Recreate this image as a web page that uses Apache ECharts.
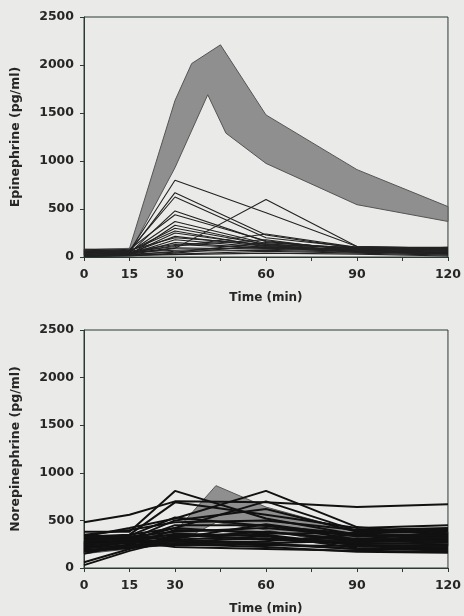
<!DOCTYPE html>
<html>
<head>
<meta charset="utf-8">
<script src="https://cdn.jsdelivr.net/npm/echarts@6/dist/echarts.min.js"></script>
<style>
html,body{margin:0;padding:0;background:#eaebe8;}
#c{width:464px;height:616px;}
</style>
</head>
<body>
<div id="c"></div>
<script>
// ---- data ----
var times = [0, 15, 30, 60, 90, 120];
var xTickLabels = [0, 15, 30, 60, 90, 120];

// Epinephrine reference band (upper and lower edges, [time, value])
var epiBandUpper = [[0, 80], [15, 90], [30, 1630], [35.5, 2015], [45, 2210], [60, 1480], [90, 910], [120, 525]];
var epiBandLower = [[0, 20], [15, 40], [30, 930], [40.8, 1690], [46.8, 1290], [60, 975], [90, 545], [120, 370]];

// Norepinephrine reference band
var norBandUpper = [[0, 280], [15, 300], [30, 380], [43.5, 865], [60, 640], [90, 380], [120, 380]];
var norBandLower = [[0, 150], [15, 200], [30, 250], [43.5, 480], [60, 400], [90, 220], [120, 230]];

// Individual epinephrine curves (values at times 0,15,30,60,90,120)
var epiS1 = [40, 60, 800, 460, 110, 90];
var epiS2 = [30, 50, 670, 230, 90, 80];
var epiS3 = [50, 70, 625, 200, 100, 70];
var epiS4 = [20, 40, 480, 160, 80, 60];
var epiS5 = [60, 80, 440, 170, 70, 50];
var epiS6 = [30, 50, 370, 140, 60, 40];
var epiS7 = [40, 60, 300, 130, 90, 80];
var epiS8 = [10, 30, 250, 120, 70, 60];
var epiS9 = [50, 40, 215, 110, 60, 50];
var epiS10 = [20, 30, 180, 100, 50, 40];
var epiS11 = [70, 60, 130, 90, 80, 70];
var epiS12 = [30, 40, 95, 80, 60, 50];
var epiS13 = [10, 20, 60, 70, 50, 40];
var epiS14 = [40, 30, 90, 600, 110, 90];
var epiS15 = [60, 50, 110, 240, 100, 80];
var epiS16 = [20, 30, 50, 150, 90, 70];
var epiS17 = [5, 10, 40, 120, 60, 30];
var epiS18 = [80, 70, 200, 130, 100, 100];
var epiS19 = [15, 20, 30, 60, 40, 20];
var epiS20 = [40, 50, 70, 100, 80, 60];
var epiS21 = [25, 30, 150, 90, 70, 90];
var epiS22 = [10, 20, 330, 130, 50, 30];
var epiS23 = [60, 60, 270, 110, 70, 100];
var epiS24 = [5, 15, 25, 40, 30, 10];
var epiS25 = [35, 45, 120, 180, 60, 40];

// Individual norepinephrine curves
var norS1 = [480, 560, 700, 690, 640, 670];
var norS2 = [380, 380, 810, 520, 350, 300];
var norS3 = [330, 420, 520, 810, 430, 350];
var norS4 = [300, 350, 690, 560, 420, 450];
var norS5 = [250, 300, 500, 620, 380, 400];
var norS6 = [200, 280, 450, 450, 300, 380];
var norS7 = [150, 250, 400, 380, 280, 300];
var norS8 = [60, 200, 350, 300, 250, 270];
var norS9 = [30, 180, 300, 250, 200, 200];
var norS10 = [340, 320, 250, 220, 170, 160];
var norS11 = [280, 260, 300, 330, 260, 250];
var norS12 = [220, 230, 260, 280, 350, 330];
var norS13 = [310, 330, 380, 420, 340, 360];
var norS14 = [260, 280, 220, 200, 180, 170];
var norS15 = [190, 220, 330, 350, 240, 230];
var norS16 = [350, 400, 480, 500, 400, 420];
var norS17 = [240, 300, 420, 700, 390, 410];
var norS18 = [170, 210, 260, 240, 230, 210];
var norS19 = [300, 310, 350, 300, 310, 280];
var norS20 = [230, 260, 310, 460, 330, 340];
var norS21 = [270, 340, 530, 440, 360, 390];
var norS22 = [320, 290, 280, 260, 290, 310];
var norS23 = [290, 300, 320, 380, 300, 320];
var norS24 = [210, 240, 280, 310, 270, 290];
var norS25 = [330, 350, 420, 360, 370, 400];
var norS26 = [250, 270, 360, 340, 210, 180];
var norS27 = [180, 230, 240, 260, 200, 240];

var epiSubjects = [epiS1, epiS2, epiS3, epiS4, epiS5, epiS6, epiS7, epiS8, epiS9, epiS10, epiS11, epiS12, epiS13,
  epiS14, epiS15, epiS16, epiS17, epiS18, epiS19, epiS20, epiS21, epiS22, epiS23, epiS24, epiS25];
var norSubjects = [norS1, norS2, norS3, norS4, norS5, norS6, norS7, norS8, norS9, norS10, norS11,
  norS12, norS13, norS14, norS15, norS16, norS17, norS18, norS19, norS20, norS21, norS22,
  norS23, norS24, norS25, norS26, norS27];

// ---- chart ----
var font = 'DejaVu Sans, sans-serif';
var textColor = '#262626';
var frameColor = '#2b3a35';

function xAxisDef(gi) {
  return {
    type: 'value', gridIndex: gi, min: 0, max: 120, interval: 15,
    name: 'Time (min)', nameLocation: 'middle', nameGap: 35,
    nameTextStyle: { fontFamily: font, fontSize: 12, fontWeight: 'bold', color: textColor },
    axisLine: { show: true, onZero: false, lineStyle: { color: frameColor, width: 1 } },
    axisTick: { show: true, length: 4, lineStyle: { color: frameColor } },
    axisLabel: {
      margin: 11, fontFamily: font, fontSize: 12.5, fontWeight: 'bold', color: textColor,
      formatter: function (v) { return xTickLabels.indexOf(v) >= 0 ? String(v) : ''; }
    },
    splitLine: { show: false }
  };
}
function yAxisDef(gi, name) {
  return {
    type: 'value', gridIndex: gi, min: 0, max: 2500, interval: 500,
    name: name, nameLocation: 'middle', nameGap: 62, nameRotate: 90,
    nameTextStyle: { fontFamily: font, fontSize: 12.5, fontWeight: 'bold', color: textColor },
    axisLine: { show: true, lineStyle: { color: frameColor, width: 1 } },
    axisTick: { show: true, length: 4, lineStyle: { color: frameColor } },
    axisLabel: {
      margin: 10, fontFamily: font, fontSize: 12.5, fontWeight: 'bold', color: textColor,
      formatter: function (v) { return String(v); }
    },
    splitLine: { show: false }
  };
}

function bandSeries(gi, upper, lower) {
  return {
    type: 'custom', xAxisIndex: gi, yAxisIndex: gi, silent: true, z: 1,
    data: [0],
    renderItem: function (params, api) {
      var pts = [];
      for (var i = 0; i < upper.length; i++) pts.push(api.coord(upper[i]));
      for (var j = lower.length - 1; j >= 0; j--) pts.push(api.coord(lower[j]));
      return {
        type: 'polygon',
        shape: { points: pts },
        style: { fill: '#8f8f8f', stroke: '#555', lineWidth: 1 }
      };
    }
  };
}

function subjectSeries(gi, vals, width, color) {
  var d = [];
  for (var i = 0; i < times.length; i++) d.push([times[i], vals[i]]);
  return {
    type: 'line', xAxisIndex: gi, yAxisIndex: gi, data: d,
    symbol: 'none', silent: true, z: 3,
    lineStyle: { color: color, width: width }
  };
}

var series = [bandSeries(0, epiBandUpper, epiBandLower), bandSeries(1, norBandUpper, norBandLower)];
epiSubjects.forEach(function (s) { series.push(subjectSeries(0, s, 1.1, '#222')); });
norSubjects.forEach(function (s) { series.push(subjectSeries(1, s, 2, '#111')); });

var chart = echarts.init(document.getElementById('c'), null, { renderer: 'canvas' });
chart.setOption({
  backgroundColor: '#eaebe8',
  animation: false,
  grid: [
    { left: 84, top: 17, width: 366, height: 240, show: true, borderColor: frameColor, borderWidth: 1, backgroundColor: 'transparent' },
    { left: 84, top: 330, width: 367, height: 239, show: true, borderColor: frameColor, borderWidth: 1, backgroundColor: 'transparent' }
  ],
  xAxis: [xAxisDef(0), xAxisDef(1)],
  yAxis: [yAxisDef(0, 'Epinephrine (pg/ml)'), yAxisDef(1, 'Norepinephrine (pg/ml)')],
  series: series
});
</script>
</body>
</html>
